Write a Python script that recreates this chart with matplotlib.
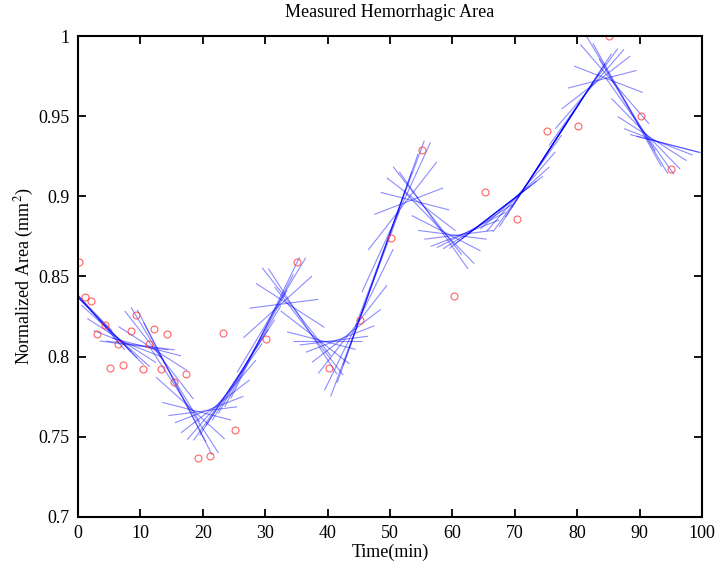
import numpy as np
import matplotlib
matplotlib.use("Agg")
import matplotlib.pyplot as plt
from matplotlib.collections import LineCollection

# measured points (red circles)
time_pts = [0.2, 1.2, 2.1, 3.0, 4.3, 5.1, 6.4, 7.2, 8.5, 9.3, 10.4, 11.3, 12.2, 13.3, 14.3, 15.4,
            17.3, 19.2, 21.2, 23.3, 25.2, 30.2, 35.1, 40.3, 45.2, 50.2, 55.2, 60.3, 65.3, 70.3,
            75.1, 80.2, 85.1, 90.2, 95.1]
area_pts = [0.859, 0.837, 0.835, 0.814, 0.820, 0.793, 0.808, 0.795, 0.816, 0.826, 0.792, 0.808,
            0.817, 0.792, 0.814, 0.784, 0.789, 0.737, 0.738, 0.815, 0.754, 0.811, 0.859, 0.793,
            0.823, 0.874, 0.929, 0.838, 0.903, 0.886, 0.941, 0.944, 1.000, 0.950, 0.917]

# smoothed estimate at each minute; local linear fits drawn around it (blue lines)
fit_t = list(range(0, 96))
fit_y = [0.838, 0.834, 0.829, 0.825, 0.821, 0.817, 0.813, 0.810, 0.808, 0.807,
         0.807, 0.806, 0.805, 0.801, 0.795, 0.788, 0.780, 0.773, 0.768, 0.766,
         0.766, 0.767, 0.769, 0.773, 0.778, 0.784, 0.790, 0.796, 0.803, 0.810,
         0.818, 0.826, 0.831, 0.833, 0.832, 0.828, 0.822, 0.816, 0.812, 0.810,
         0.810, 0.810, 0.811, 0.813, 0.817, 0.823, 0.833, 0.844, 0.855, 0.866,
         0.877, 0.887, 0.894, 0.897, 0.897, 0.895, 0.891, 0.885, 0.880, 0.877,
         0.876, 0.876, 0.877, 0.879, 0.881, 0.884, 0.887, 0.890, 0.893, 0.896,
         0.899, 0.903, 0.908, 0.914, 0.920, 0.926, 0.932, 0.938, 0.944, 0.950,
         0.956, 0.962, 0.967, 0.971, 0.973, 0.973, 0.970, 0.964, 0.957, 0.950,
         0.944, 0.939, 0.936, 0.934, 0.933, 0.932]

x_ticks = [0, 10, 20, 30, 40, 50, 60, 70, 80, 90, 100]
y_ticks = [0.7, 0.75, 0.8, 0.85, 0.9, 0.95, 1.0]
y_tick_labels = ["0.7", "0.75", "0.8", "0.85", "0.9", "0.95", "1"]

plt.rcParams["font.family"] = ["Liberation Serif", "DejaVu Serif"]
plt.rcParams["mathtext.fontset"] = "stix"

fig = plt.figure(figsize=(7.19, 5.67), dpi=100)
ax = fig.add_axes([0.1085, 0.0882, 0.8679, 0.8483])

half = 5.5
t = np.array(fit_t, dtype=float)
y = np.array(fit_y)
slope = np.gradient(y, t)
segs = [[(ti - half, yi - half * si), (ti + half, yi + half * si)] for ti, yi, si in zip(t, y, slope)]
lc = LineCollection(segs, colors="#0000ff", linewidths=0.8, alpha=0.45)
ax.add_collection(lc)

ax.plot(time_pts, area_pts, "o", markerfacecolor="none", markeredgecolor="#ff3030",
        markersize=5, markeredgewidth=0.8, alpha=0.75)

ax.set_xlim(0, 100)
ax.set_ylim(0.7, 1.0)
ax.set_xticks(x_ticks)
ax.set_yticks(y_ticks)
ax.set_yticklabels(y_tick_labels)
ax.tick_params(direction="in", length=6, width=1.3, top=True, right=True, labelsize=13, pad=6)
for sp in ax.spines.values():
    sp.set_linewidth(1.5)

ax.set_title("Measured Hemorrhagic Area", fontsize=13, pad=14)
ax.set_xlabel("Time(min)", fontsize=13, labelpad=1)
ax.set_ylabel("Normalized Area (mm$^2$)", fontsize=13, labelpad=2)

fig.savefig("out.png", dpi=100)
